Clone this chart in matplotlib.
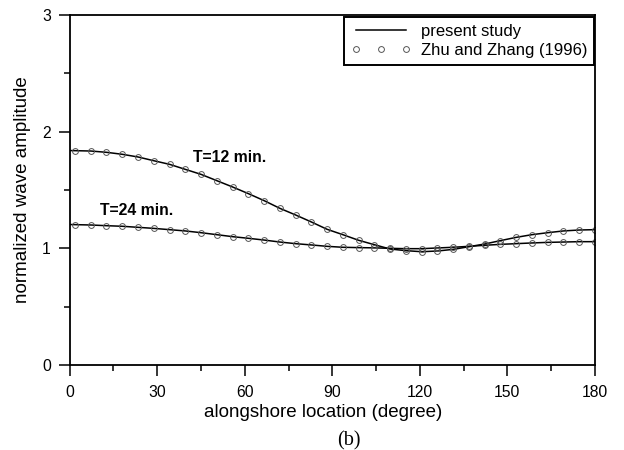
import matplotlib
matplotlib.use("Agg")
import matplotlib.pyplot as plt
from matplotlib.ticker import MultipleLocator

plt.rcParams["font.family"] = ["Liberation Sans", "DejaVu Sans"]

# alongshore location of the Zhu and Zhang (1996) points [deg]
zhu_x = [1.8, 7.2, 12.6, 18.0, 23.4, 28.8, 34.2, 39.6, 45.0, 50.4, 55.8, 61.2,
         66.6, 72.0, 77.4, 82.8, 88.2, 93.6, 99.0, 104.4, 109.8, 115.2, 120.6,
         126.0, 131.4, 136.8, 142.2, 147.6, 153.0, 158.4, 163.8, 169.2, 174.6, 180.0]
zhu_t12 = [1.837, 1.834, 1.823, 1.806, 1.783, 1.751, 1.720, 1.677, 1.634, 1.580,
           1.526, 1.469, 1.409, 1.343, 1.286, 1.226, 1.163, 1.117, 1.069, 1.031,
           0.994, 0.980, 0.971, 0.977, 0.991, 1.014, 1.037, 1.066, 1.094, 1.117,
           1.134, 1.149, 1.157, 1.160]
zhu_t24 = [1.203, 1.200, 1.194, 1.189, 1.180, 1.171, 1.160, 1.149, 1.134, 1.117,
           1.100, 1.086, 1.071, 1.054, 1.040, 1.029, 1.017, 1.009, 1.006, 1.004,
           1.000, 0.997, 0.997, 1.003, 1.009, 1.017, 1.026, 1.034, 1.040, 1.046,
           1.051, 1.054, 1.057, 1.057]

# present study curves (start at the left edge)
present_x = [0.0] + zhu_x
present_t12 = [1.838] + zhu_t12
present_t24 = [1.204] + zhu_t24

fig = plt.figure(figsize=(6.24, 4.5), dpi=100)
ax = fig.add_axes([0.1117, 0.1889, 0.8418, 0.7778])

ax.plot(present_x, present_t12, color="black", lw=1.1, label="present study")
ax.plot(present_x, present_t24, color="black", lw=1.1)
mk = dict(ls="none", marker="o", ms=4.2, mfc="none", mec="#555555", mew=0.7)
ax.plot(zhu_x, zhu_t12, label="Zhu and Zhang (1996)", **mk)
ax.plot(zhu_x, zhu_t24, **mk)

ax.text(42.2, 1.78, "T=12 min.", fontsize=11.3, fontweight="bold", va="center")
ax.text(10.4, 1.32, "T=24 min.", fontsize=11.3, fontweight="bold", va="center")

ax.set_xlim(0, 180)
ax.set_ylim(0, 3)
ax.xaxis.set_major_locator(MultipleLocator(30))
ax.xaxis.set_minor_locator(MultipleLocator(15))
ax.yaxis.set_major_locator(MultipleLocator(1))
ax.yaxis.set_minor_locator(MultipleLocator(0.5))
ax.tick_params(which="major", direction="out", length=8, width=1.1,
               labelsize=11.3)
ax.tick_params(axis="x", which="major", pad=6.5)
ax.tick_params(axis="y", which="major", pad=5.5)
ax.tick_params(which="minor", direction="out", length=4.5, width=1.1)
for s in ax.spines.values():
    s.set_linewidth(1.3)

ax.set_xlabel("alongshore location (degree)", fontsize=13.5)
ax.xaxis.set_label_coords(0.482, -0.112)
ax.set_ylabel("normalized wave amplitude", fontsize=13.5)
ax.yaxis.set_label_coords(-0.073, 0.5)

leg = ax.legend(loc="upper right", bbox_to_anchor=(0.998, 0.993),
                borderaxespad=0, numpoints=3, handlelength=3.6,
                handletextpad=0.6, labelspacing=0.25, borderpad=0.4,
                fontsize=12, fancybox=False, framealpha=1)
leg.get_frame().set_edgecolor("black")
leg.get_frame().set_linewidth(1.4)

fig.text(0.559, 0.021, "(b)", fontsize=14.5, family=["Liberation Serif"],
         ha="center", va="center")

fig.savefig("out.png")
